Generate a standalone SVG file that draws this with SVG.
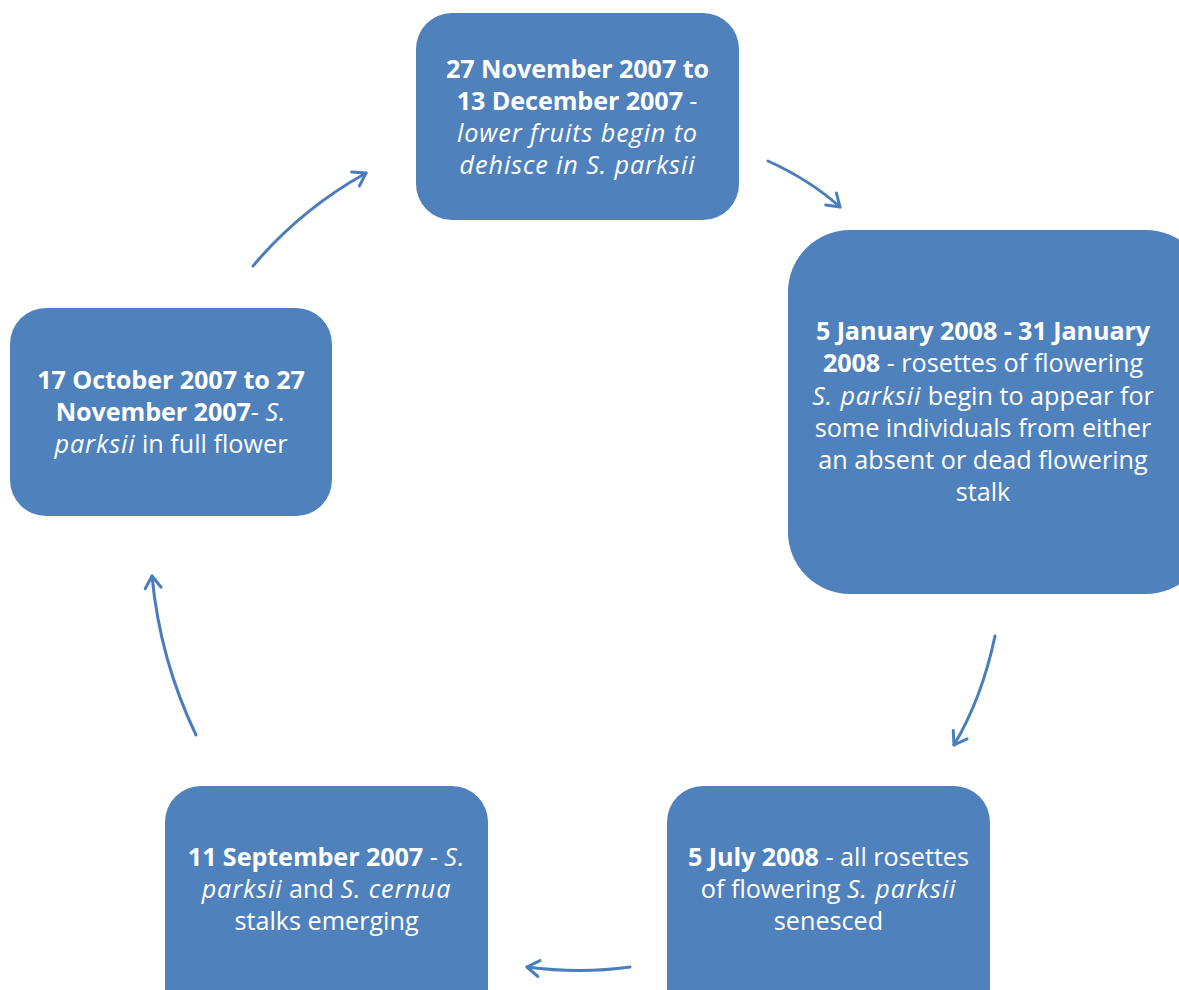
<svg xmlns="http://www.w3.org/2000/svg" width="1179" height="990" viewBox="0 0 1179 990">
<defs>
<style>
.box{fill:#4F81BD;}
.t{font-family:"Open Sans","Noto Sans",sans-serif;font-size:25.2px;fill:#fff;text-anchor:middle;}
.b{font-weight:bold;letter-spacing:-0.1px;}
.i{font-style:italic;letter-spacing:0.9px;}
.c{fill:none;stroke:#4A7EBB;stroke-width:3;stroke-linecap:round;stroke-linejoin:round;}
</style>
<marker id="ah" viewBox="0 0 20 20" refX="17" refY="10" markerWidth="20" markerHeight="20" markerUnits="userSpaceOnUse" orient="auto">
<path d="M5,2 L17,10 L5,18" fill="none" stroke="#4A7EBB" stroke-width="3" stroke-linecap="round" stroke-linejoin="round"/>
</marker>
</defs>
<rect width="1179" height="990" fill="#fff"/>
<g id="connectors">
<path class="c" d="M253,266 Q300,210 366,173" marker-end="url(#ah)"/>
<path class="c" d="M768,161 Q810,180 840,207" marker-end="url(#ah)"/>
<path class="c" d="M995,636 Q982,698 954,745" marker-end="url(#ah)"/>
<path class="c" d="M630,967 Q580,974 527,967" marker-end="url(#ah)"/>
<path class="c" d="M196,735 Q160,660 152,576" marker-end="url(#ah)"/>
</g>
<g id="node-top">
<rect class="box" x="416" y="13" width="323" height="207" rx="36"/>
<text class="t" x="577.5" y="78"><tspan class="b">27 November 2007 to</tspan></text>
<text class="t" x="577.5" y="110"><tspan class="b">13 December 2007</tspan> <tspan class="i">-</tspan></text>
<text class="t i" x="577.5" y="142">lower fruits begin to</text>
<text class="t i" x="577.5" y="174">dehisce in S. parksii</text>
</g>
<g id="node-right">
<rect class="box" x="788" y="230" width="420" height="364" rx="62"/>
<text class="t" x="983" y="340"><tspan class="b">5 January 2008 - 31 January</tspan></text>
<text class="t" x="983" y="372"><tspan class="b">2008</tspan> - rosettes of flowering</text>
<text class="t" x="983" y="405"><tspan class="i">S. parksii</tspan> begin to appear for</text>
<text class="t" x="983" y="437">some individuals from either</text>
<text class="t" x="983" y="469">an absent or dead flowering</text>
<text class="t" x="983" y="501">stalk</text>
</g>
<g id="node-bottom-right">
<rect class="box" x="667" y="786" width="323" height="240" rx="36"/>
<text class="t" x="828.5" y="866"><tspan class="b">5 July 2008</tspan> - all rosettes</text>
<text class="t" x="828.5" y="898">of flowering <tspan class="i">S. parksii</tspan></text>
<text class="t" x="828.5" y="930">senesced</text>
</g>
<g id="node-bottom-left">
<rect class="box" x="165" y="786" width="323" height="240" rx="36"/>
<text class="t" x="326.5" y="866"><tspan class="b">11 September 2007</tspan> - <tspan class="i">S.</tspan></text>
<text class="t" x="326.5" y="898"><tspan class="i">parksii</tspan> and <tspan class="i">S. cernua</tspan></text>
<text class="t" x="326.5" y="930">stalks emerging</text>
</g>
<g id="node-left">
<rect class="box" x="10" y="308" width="322" height="208" rx="36"/>
<text class="t" x="171" y="389"><tspan class="b">17 October 2007 to 27</tspan></text>
<text class="t" x="171" y="421"><tspan class="b">November 2007</tspan>- <tspan class="i">S.</tspan></text>
<text class="t" x="171" y="453"><tspan class="i">parksii</tspan> in full flower</text>
</g>
</svg>
